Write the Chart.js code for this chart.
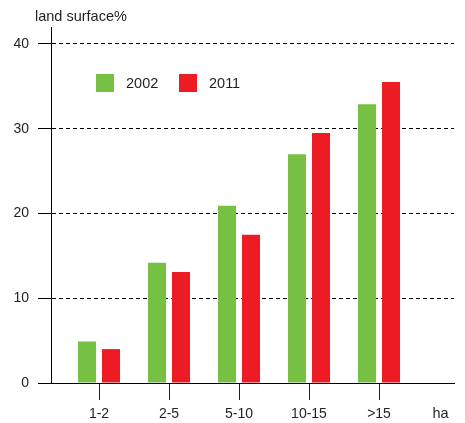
<!DOCTYPE html>
<html>
<head>
<meta charset="utf-8">
<script src="https://cdn.jsdelivr.net/npm/chart.js@4.4.1/dist/chart.umd.min.js"></script>
<style>
html,body{margin:0;padding:0;background:#fff;}
#wrap{width:465px;height:423px;position:relative;}
</style>
</head>
<body>
<div id="wrap"><canvas id="c" width="465" height="423"></canvas></div>
<script>
const categories = ['1-2', '2-5', '5-10', '10-15', '>15'];
const series2002 = [4.9, 14.2, 20.9, 27.0, 32.9];
const series2011 = [4.0, 13.1, 17.5, 29.5, 35.5];
const seriesLabels = ['2002', '2011'];
const yTicks = [0, 10, 20, 30, 40];
const yTitle = 'land surface%';
const xUnit = 'ha';

const FONT = '"Liberation Sans", Arial, Helvetica, sans-serif';
const TXT = '#231f20';
const GREEN = '#76c043';
const RED = '#ed1c24';

const overlay = {
  id: 'overlay',
  afterDraw(chart) {
    const ctx = chart.ctx;
    ctx.save();
    ctx.font = '14.5px ' + FONT;
    ctx.fillStyle = TXT;
    ctx.textAlign = 'left';
    ctx.textBaseline = 'alphabetic';
    ctx.fillText(yTitle, 35, 21);
    ctx.textAlign = 'center';
    ctx.fillText(xUnit, 440.5, 418);
    const boxX = [96, 179];
    const textX = [126, 209];
    chart.data.datasets.forEach((ds, i) => {
      ctx.fillStyle = ds.backgroundColor;
      ctx.fillRect(boxX[i], 74, 18, 18);
      ctx.fillStyle = TXT;
      ctx.textAlign = 'left';
      ctx.fillText(ds.label, textX[i], 88);
    });
    ctx.restore();
  }
};

new Chart(document.getElementById('c'), {
  type: 'bar',
  data: {
    datasets: [
      { label: seriesLabels[0], data: series2002.map((v, i) => ({x: i, y: v})), backgroundColor: GREEN, categoryPercentage: 48/70, barPercentage: 0.75 },
      { label: seriesLabels[1], data: series2011.map((v, i) => ({x: i, y: v})), backgroundColor: RED, categoryPercentage: 48/70, barPercentage: 0.75 }
    ]
  },
  options: {
    responsive: false,
    animation: false,
    devicePixelRatio: 1,
    layout: { padding: { top: 27, right: 11, left: 0, bottom: 0 } },
    plugins: { legend: { display: false }, tooltip: { enabled: false }, title: { display: false } },
    scales: {
      x: {
        type: 'linear',
        offset: false,
        min: -48/70,
        max: 355/70,
        afterBuildTicks: (s) => { s.ticks = categories.map((c, i) => ({ value: i })); },
        afterFit: (s) => { s.height = 40; },
        ticks: {
          autoSkip: false, maxRotation: 0, padding: 6,
          color: TXT, font: { family: FONT, size: 14 },
          callback: (v, i) => categories[i]
        },
        grid: { offset: false, drawOnChartArea: false, drawTicks: true, tickLength: 17, tickColor: '#231f20', tickWidth: 1 },
        border: { display: true, color: '#000', width: 1 }
      },
      y: {
        min: 0,
        max: 42,
        afterBuildTicks: (s) => { s.ticks = yTicks.map(v => ({ value: v })); },
        afterFit: (s) => { s.width = 51; },
        ticks: { padding: 9, color: TXT, font: { family: FONT, size: 14 } },
        grid: { color: '#000', lineWidth: 1, tickBorderDash: [], tickLength: 13, tickColor: '#000', drawTicks: true },
        border: { display: true, color: '#000', width: 1, dash: [4, 3] }
      }
    }
  },
  plugins: [overlay]
});
</script>
</body>
</html>
